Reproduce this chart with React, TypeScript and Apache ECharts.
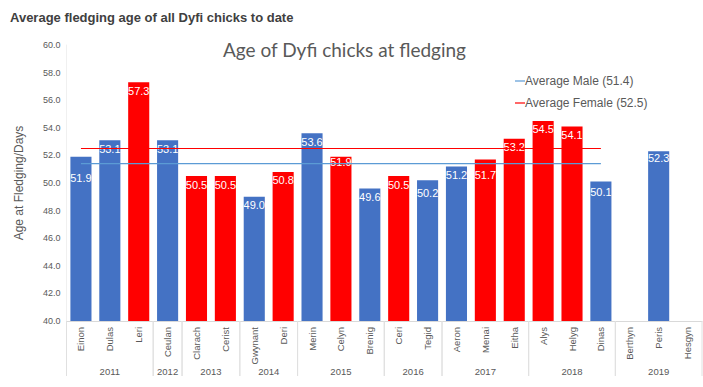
import React, { useEffect, useRef } from "react";
import * as echarts from "echarts";

const chicks = ["Einon","Dulas","Leri","Ceulan","Clarach","Cerist","Gwynant","Deri","Merin","Celyn","Brenig","Ceri","Tegid","Aeron","Menai","Eitha","Alys","Helyg","Dinas","Berthyn","Peris","Hesgyn"];
const ages: (number | null)[] = [51.9,53.1,57.3,53.1,50.5,50.5,49.0,50.8,53.6,51.9,49.6,50.5,50.2,51.2,51.7,53.2,54.5,54.1,50.1,null,52.3,null];
const sexes = ["M","M","F","M","F","F","M","F","M","F","M","F","M","M","F","F","F","F","M","M","M","M"];
const years = ["2011","2012","2013","2014","2015","2016","2017","2018","2019"];
const yearStart = [0,3,4,6,8,11,13,16,19];
const yearEnd = [2,3,5,7,10,12,15,18,21];
const maleAvg = 51.4;
const femaleAvg = 52.5;
const avgLineLastIndex = 18;

const BLUE = "#4472C4";
const RED = "#FF0000";
const GREY = "#595959";
const labelNudge: Record<string, number> = { Einon: 13, Celyn: -3, Menai: 7, Tegid: 4, Dinas: 2, Peris: -2 };

export default function App() {
  const ref = useRef<HTMLDivElement>(null);
  useEffect(() => {
    document.body.style.margin = "0";
    const chart = echarts.init(ref.current!, null, { renderer: "svg" });
    const font = "Liberation Sans, Arial, sans-serif";
    const maleName = `Average Male (${maleAvg})`;
    const femaleName = `Average Female (${femaleAvg})`;
    const lineData = (v: number) => chicks.map((_, i) => (i <= avgLineLastIndex ? v : null));
    chart.setOption({
      animation: false,
      textStyle: { fontFamily: font },
      title: [
        { text: "Average fledging age of all Dyfi chicks to date", left: 5, top: 6, textStyle: { fontSize: 13, fontWeight: "bold", color: "#404040", fontFamily: font } },
        { text: "Age of Dyfi chicks at fledging", left: 218, top: 35, textStyle: { fontSize: 19, fontWeight: "normal", color: GREY, fontFamily: "Lato, sans-serif" } },
      ],
      legend: {
        data: [maleName, femaleName],
        orient: "vertical",
        left: 510,
        top: 70,
        itemGap: 10,
        itemWidth: 10,
        itemHeight: 1.2,
        icon: "rect",
        textStyle: { fontSize: 12, color: GREY, fontFamily: font, padding: [0, 0, 0, -5] },
      },
      grid: { left: 66.5, right: 1, top: 45, bottom: 66, containLabel: false },
      xAxis: {
        type: "category",
        data: chicks,
        axisTick: { show: false },
        axisLine: { lineStyle: { color: "#d9d9d9" } },
        axisLabel: { rotate: 90, interval: 0, fontSize: 9.5, color: GREY, margin: 6, fontFamily: font },
      },
      yAxis: {
        type: "value",
        min: 40,
        max: 60,
        interval: 2,
        name: "Age at Fledging/Days",
        nameLocation: "middle",
        nameRotate: 90,
        nameGap: 42,
        nameTextStyle: { fontSize: 12, color: GREY, fontFamily: font },
        splitLine: { show: false },
        axisTick: { show: false },
        axisLine: { show: true, lineStyle: { color: "#f0f0f0" } },
        axisLabel: { fontSize: 9, color: GREY, margin: 6, formatter: (v: number) => v.toFixed(1), fontFamily: font },
      },
      series: [
        {
          type: "bar",
          barWidth: "73%",
          data: ages.map((v, i) => ({
            value: v,
            itemStyle: { color: sexes[i] === "M" ? BLUE : RED },
            label: { offset: [0, labelNudge[chicks[i]] || 0] },
          })),
          label: {
            show: true,
            position: "insideTop",
            distance: 3,
            color: "#fff",
            fontSize: 11,
            fontFamily: font,
            formatter: (p: any) => (p.value == null ? "" : Number(p.value).toFixed(1)),
          },
          z: 2,
        },
        {
          type: "line",
          name: maleName,
          data: lineData(maleAvg),
          symbol: "none",
          showSymbol: false,
          lineStyle: { color: "#5B9BD5", width: 1.2 },
          itemStyle: { color: "#5B9BD5" },
          z: 3,
        },
        {
          type: "line",
          name: femaleName,
          data: lineData(femaleAvg),
          symbol: "none",
          showSymbol: false,
          lineStyle: { color: RED, width: 1.2 },
          itemStyle: { color: RED },
          z: 3,
        },
        {
          type: "custom",
          silent: true,
          data: years.map((y, i) => [yearStart[i], yearEnd[i], 40]),
          encode: { x: [0, 1], y: 2 },
          renderItem: (params: any, api: any) => {
            const s = api.value(0);
            const e = api.value(1);
            const w = api.size([1, 0])[0];
            const p0 = api.coord([s, 40]);
            const p1 = api.coord([e, 40]);
            const left = p0[0] - w / 2;
            const right = p1[0] + w / 2;
            const y0 = p0[1];
            const lineStyle = { stroke: "#e0e0e0", lineWidth: 1 };
            return {
              type: "group",
              children: [
                { type: "line", shape: { x1: left, y1: y0, x2: left, y2: y0 + 55 }, style: lineStyle },
                { type: "line", shape: { x1: right, y1: y0, x2: right, y2: y0 + 55 }, style: lineStyle },
                {
                  type: "text",
                  x: (left + right) / 2,
                  y: y0 + 50,
                  style: { text: years[params.dataIndex], fill: GREY, fontSize: 9.5, fontFamily: font, align: "center", verticalAlign: "middle" },
                },
              ],
            };
          },
          z: 1,
        },
      ],
    });
    return () => chart.dispose();
  }, []);
  return <div ref={ref} style={{ width: 703, height: 387 }} />;
}
